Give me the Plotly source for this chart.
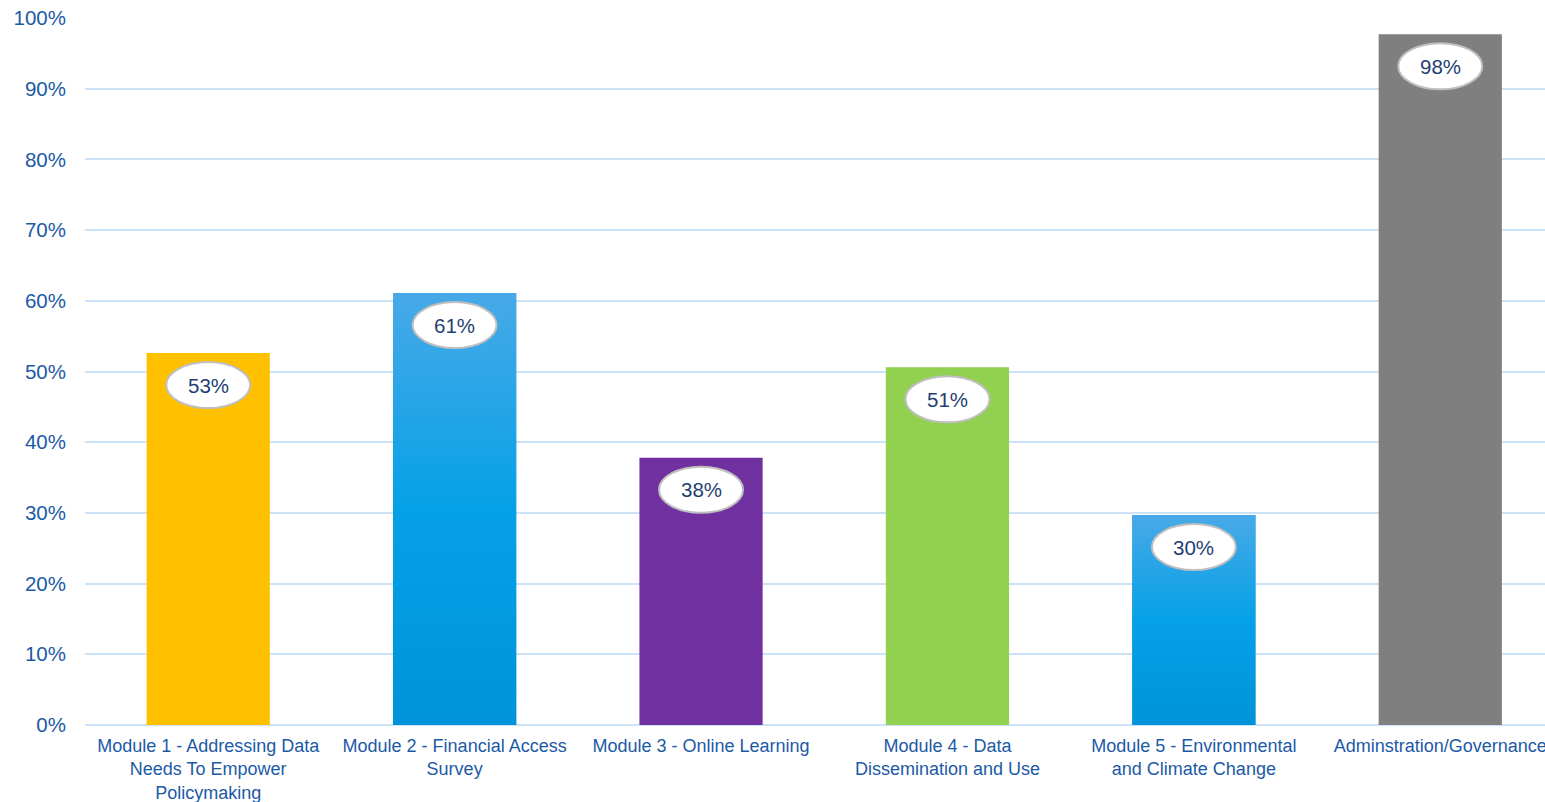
import plotly.graph_objects as go

categories = [
    "Module 1 - Addressing Data<br>Needs To Empower<br>Policymaking",
    "Module 2 - Financial Access<br>Survey",
    "Module 3 - Online Learning",
    "Module 4 - Data<br>Dissemination and Use",
    "Module 5 - Environmental<br>and Climate Change",
    "Adminstration/Governance",
]
values = [0.526, 0.611, 0.378, 0.506, 0.297, 0.977]
labels = ["53%", "61%", "38%", "51%", "30%", "98%"]
colors = ["#FFC000", "#1AA0E6", "#7030A0", "#92D050", "#1AA0E6", "#7F7F7F"]
gradient = [False, True, False, False, True, False]

FONT = "Liberation Sans, Arial, sans-serif"
idx = list(range(len(categories)))
half = 0.25

fig = go.Figure()
fig.add_trace(go.Bar(x=idx, y=values, width=0.5, marker=dict(color=colors, line=dict(width=0)),
                     hoverinfo="skip", showlegend=False))

for i, v in enumerate(values):
    if gradient[i]:
        fig.add_trace(go.Scatter(
            x=[i - half, i + half, i + half, i - half, i - half],
            y=[0, 0, v, v, 0],
            mode="lines", line=dict(width=0), fill="toself",
            fillgradient=dict(type="vertical",
                              colorscale=[[0, "#0093D9"], [0.5, "#05A1E7"], [1, "#48A9E7"]]),
            hoverinfo="skip", showlegend=False))

shapes = []
annotations = []
for i, v in enumerate(values):
    shapes.append(dict(type="circle", xref="x", yref="y", layer="above",
                       xsizemode="pixel", ysizemode="pixel",
                       xanchor=i, yanchor=v, x0=-42, x1=42, y0=-55, y1=-9,
                       fillcolor="white", line=dict(color="#BFBFBF", width=2)))
    annotations.append(dict(x=i, y=v, xref="x", yref="y", yshift=-32, text=labels[i],
                            showarrow=False, font=dict(family=FONT, size=20.5, color="#1F3F73")))

fig.update_layout(
    width=1545, height=802,
    margin=dict(l=85, r=0, t=18, b=77, autoexpand=False),
    paper_bgcolor="white", plot_bgcolor="white",
    shapes=shapes, annotations=annotations,
    bargap=0.5,
)
fig.update_xaxes(
    range=[-0.5, 5.425], tickmode="array", tickvals=idx, ticktext=categories,
    tickfont=dict(family=FONT, size=18, color="#1C5AA6"),
    showgrid=False, zeroline=False, showline=False, ticks="", automargin=False,
    ticklabelstandoff=8, ticklabeloverflow="allow",
)
fig.update_yaxes(
    range=[0, 1], dtick=0.1, tickformat=".0%",
    tickfont=dict(family=FONT, size=20.5, color="#1C5AA6"),
    showgrid=True, gridcolor="#CCE3F7", gridwidth=2,
    zeroline=True, zerolinecolor="#CCE3F7", zerolinewidth=2,
    showline=False, ticks="", automargin=False, ticklabelstandoff=18,
    ticklabeloverflow="allow",
)

fig.write_html("out.html", config={"displayModeBar": False},
               post_script="document.body.style.margin='0';document.body.style.overflow='hidden';")
